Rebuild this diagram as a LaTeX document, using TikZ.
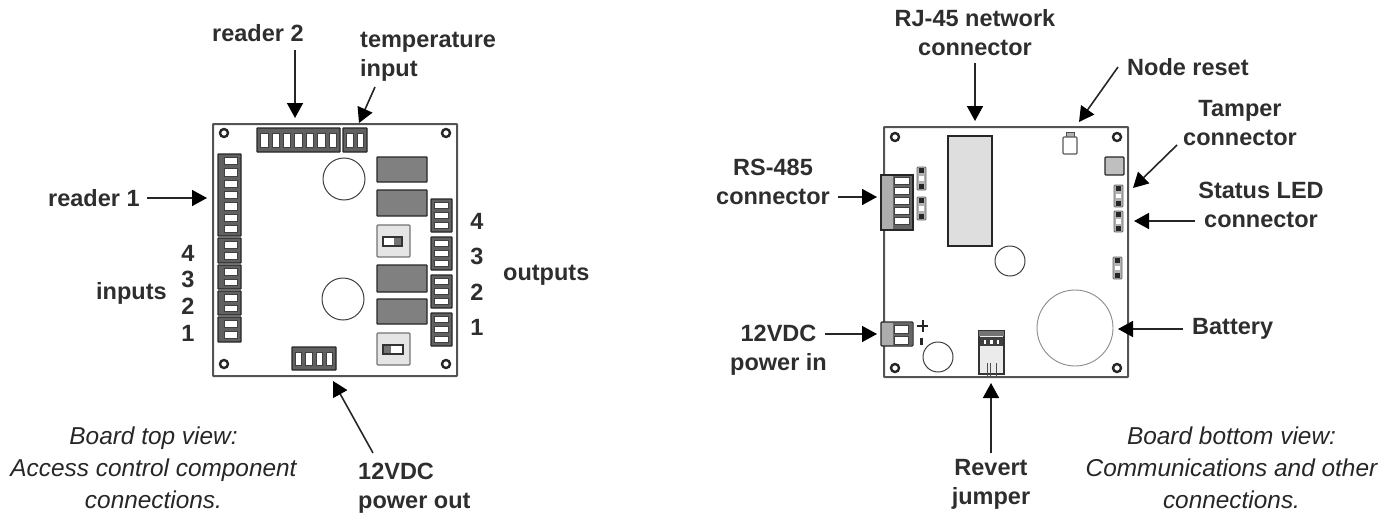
\documentclass[tikz,border=0pt]{standalone}
\usepackage{fontspec}
\setmainfont{Liberation Sans}
\usetikzlibrary{arrows.meta}
\definecolor{relayc}{gray}{0.5}
\definecolor{bdc}{gray}{0.33}
\tikzset{
  board/.style={draw=bdc,line width=2pt,rounded corners=0.5pt},
  hole/.style={draw=black!85,line width=2.4pt},
  conn/.style={draw=black!85,fill=black!62,line width=1.1pt,rounded corners=0.5pt},
  cell/.style={draw=black!75,fill=white,line width=0.6pt},
  relay/.style={draw=black!85,fill=relayc,line width=1.2pt,rounded corners=0.5pt},
  swbox/.style={draw=black!55,fill=black!10,line width=1.2pt,rounded corners=1pt},
  thincirc/.style={draw=black!75,line width=1pt,fill=white},
  lbl/.style={font=\bfseries\fontsize{23.5}{29}\selectfont,text=black!82,align=left,inner sep=0pt},
  captxt/.style={font=\itshape\fontsize{24.4}{32}\selectfont,text=black!85,align=center,inner sep=0pt},
  arr/.style={draw=black!85,line width=1.6pt,-{Triangle[length=15pt,width=16pt,color=black]}}
}
\newcommand{\hstrip}[5]{%
  \draw[conn] (#1,#2) rectangle (#3,#4);
  \pgfmathsetmacro{\cw}{(#3-#1-3)/#5}
  \foreach \i in {1,...,#5}{
    \draw[cell] ({#1+1.5+(\i-1)*\cw+2},{#2+5}) rectangle ({#1+1.5+\i*\cw-2},{#4-5});
  }}
% vertical strip, last two arguments in \vL and \vR: insets of the cells
\def\vL{6}\def\vR{4}
\newcommand{\vstrip}[5]{%
  \draw[conn] (#1,#2) rectangle (#3,#4);
  \pgfmathsetmacro{\ch}{(#4-#2-3)/#5}
  \foreach \i in {1,...,#5}{
    \draw[cell] ({#1+\vL},{#2+1.5+(\i-1)*\ch+2}) rectangle ({#3-\vR},{#2+1.5+\i*\ch-2});
  }}
\newcommand{\jump}[4]{%
  \draw[draw=black!60,fill=black!30,line width=0.9pt,rounded corners=1pt] (#1,#2) rectangle (#3,#4);
  \pgfmathsetmacro{\jh}{(#4-#2)/3}
  \foreach \i in {0,1,2}{
    \fill[black!85] ({#1+2},{#2+\i*\jh+1.2}) rectangle ({#3-2},{#2+(\i+1)*\jh-1.2});
  }
  \fill[white] ({#1+2},{#2+\jh+1.2}) rectangle ({#3-2},{#2+2*\jh-1.2});}
\begin{document}
\begin{tikzpicture}[x=1pt,y=-1pt]
\useasboundingbox (0,0) rectangle (1395,514);
% ---- left board
\draw[board] (213,124) rectangle (457,376);
\foreach \x/\y in {224/133,446/133,224/364,446/364}{\draw[hole] (\x,\y) circle (4);}
\hstrip{257}{128}{340}{152}{7}
\hstrip{343}{128}{367}{152}{2}
\vstrip{218}{154}{241}{236}{7}
\vstrip{218}{238}{241}{263}{2}
\vstrip{218}{265}{241}{289}{2}
\vstrip{218}{291}{241}{315}{2}
\vstrip{218}{317}{241}{342}{2}
\draw[thincirc] (344,179) circle (21);
\draw[thincirc] (343,299) circle (21);
\draw[relay] (377,157) rectangle (427,182);
\draw[relay] (377,190) rectangle (427,216);
\draw[relay] (377,265) rectangle (427,292);
\draw[relay] (377,299) rectangle (427,324);
\draw[swbox] (377,225) rectangle (410,257);
\draw[draw=black!80,fill=white,line width=1.1pt] (383,237) rectangle (402,246);
\fill[black!55] (394,238) rectangle (401,245);
\draw[swbox] (377,333) rectangle (410,365);
\draw[draw=black!80,fill=white,line width=1.1pt] (383,345) rectangle (403,354);
\fill[black!55] (384,346) rectangle (391,353);
\def\vL{3.5}\def\vR{3.5}
\vstrip{431}{199}{452}{232}{3}
\vstrip{431}{237}{452}{270}{3}
\vstrip{431}{275}{452}{308}{3}
\vstrip{431}{313}{452}{346}{3}
\hstrip{292}{347}{336}{370}{4}
% labels left
\node[lbl,anchor=west] (r2) at (212,33) {reader 2};
\node[lbl,anchor=west] (temp) at (360,57) {temperature\\input};
\node[lbl,anchor=west] (r1) at (48,198) {reader 1};
\node[lbl,anchor=west] (inp) at (96,293) {inputs};
\node[lbl,anchor=west] (outp) at (503,275) {outputs};
\foreach \t/\y/\n in {4/253/i4,3/279/i3,2/306/i2,1/333/i1}{\node[lbl] (\n) at (188,\y) {\t};}
\foreach \t/\y/\n in {4/221/o4,3/256/o3,2/292/o2,1/327/o1}{\node[lbl] (\n) at (477,\y) {\t};}
\node[lbl,anchor=west] (pout) at (358,488) {12VDC\\power out};
\coordinate (a1) at (295,50);
\coordinate (c1) at (295,118);
\coordinate (a2) at (375,87);
\coordinate (c2) at (359,123);
\coordinate (a3) at (147,198);
\coordinate (c3) at (207,198);
\coordinate (a4) at (373,453);
\coordinate (c4) at (333,381);
\foreach \p/\q in {a1/c1,a2/c2,a3/c3,a4/c4}{\draw[arr] (\p) -- (\q);}
\node[captxt] (capL) at (153.5,468) {Board top view:\\Access control component\\connections.};
% ---- right board
\draw[board] (884,127) rectangle (1128,377);
\foreach \x/\y in {895/137,1117/137,895/368,1117/368}{\draw[hole] (\x,\y) circle (4);}
\draw[draw=black!85,fill=black!13,line width=1.4pt] (948,136) rectangle (992,246);
\draw[draw=black!70,fill=black!30,line width=1pt] (1066,132) rectangle (1074,138);
\draw[draw=black!65,fill=white,line width=1.2pt,rounded corners=1pt] (1063,137) rectangle (1077,154);
\draw[draw=black!85,fill=black!25,line width=1.3pt,rounded corners=1pt] (1105,157) rectangle (1124,175);
\jump{917}{167}{926}{190}
\jump{917}{197}{926}{220}
\jump{1114}{185}{1123}{207}
\jump{1114}{211}{1123}{232}
\jump{1113}{257}{1122}{279}
% RS-485
\draw[draw=black!85,fill=black!32,line width=1.1pt] (881,175) rectangle (913,230);
\fill[black!60] (893,176) rectangle (912,229);
\foreach \i in {0,...,4}{\draw[cell] (894,{177.5+\i*10}) rectangle (909,{184.5+\i*10});}
\draw[thincirc] (1010,261) circle (15);
\draw[draw=black!45,line width=0.9pt,fill=white] (1075,328) circle (38);
% power in
\draw[draw=black!85,fill=black!32,line width=1.1pt,rounded corners=1pt] (881,322) rectangle (913,346);
\fill[black!60] (893,323) rectangle (912,345);
\draw[cell] (894,325) rectangle (908,333);
\draw[cell] (894,336) rectangle (908,344);
\draw[line width=2pt,black!85] (917,326) -- (928,326) (922.5,320) -- (922.5,332);
\draw[line width=3pt,black!85] (921,338) -- (921,345);
\draw[thincirc] (938,357) circle (15);
% revert jumper
\draw[draw=black!80,fill=black!8,line width=1.1pt] (979,331) rectangle (1004,374);
\fill[black!55] (979,331) rectangle (1004,336);
\fill[black!75] (980,337) rectangle (1003,346);
\foreach \x in {985,991.5,998}{\fill[white] (\x-1.3,340) rectangle (\x+1.3,343.5);}
\draw[black!70,line width=1pt] (987,363) -- (987,377) (990,363) -- (990,377) (996,363) -- (996,377);
% labels right
\node[lbl,align=center] (rj) at (975,33) {RJ-45 network\\connector};
\node[lbl,anchor=west] (reset) at (1127,67) {Node reset};
\node[lbl,align=center] (tamp) at (1240,123.5) {Tamper\\connector};
\node[lbl,align=center] (sled) at (1261,205) {Status LED\\connector};
\node[lbl,align=center] (rs) at (773,181.5) {RS-485\\connector};
\node[lbl,align=center] (pin) at (778.5,350) {12VDC\\power in};
\node[lbl,anchor=west] (bat) at (1192,329) {Battery};
\node[lbl,align=center] (rev) at (991,484) {Revert\\jumper};
\coordinate (b1) at (975,63);
\coordinate (d1) at (975,121);
\coordinate (b2) at (1118,67);
\coordinate (d2) at (1079,122);
\coordinate (b3) at (1177,145);
\coordinate (d3) at (1133,188);
\coordinate (b4) at (1195,221);
\coordinate (d4) at (1134,221);
\coordinate (b5) at (838,197);
\coordinate (d5) at (877,197);
\coordinate (b6) at (825,334);
\coordinate (d6) at (877,334);
\coordinate (b7) at (1183,329);
\coordinate (d7) at (1118,329);
\coordinate (b8) at (991,453);
\coordinate (d8) at (991,383);
\foreach \p/\q in {b1/d1,b2/d2,b3/d3,b4/d4,b5/d5,b6/d6,b7/d7,b8/d8}{\draw[arr] (\p) -- (\q);}
\node[captxt] (capR) at (1231.5,468) {Board bottom view:\\Communications and other\\connections.};
\end{tikzpicture}
\end{document}
